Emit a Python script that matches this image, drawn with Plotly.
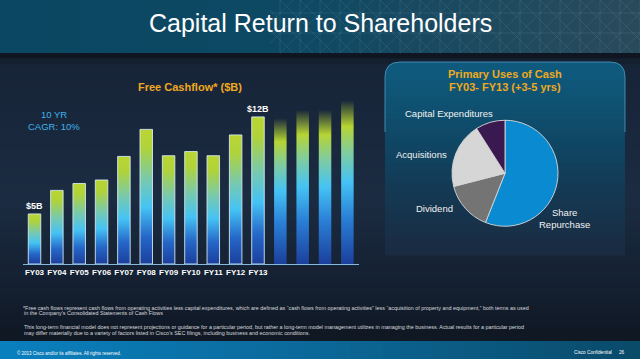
import plotly.graph_objects as go

# ---------------- data ----------------
years = ["FY03", "FY04", "FY05", "FY06", "FY07", "FY08", "FY09", "FY10", "FY11", "FY12", "FY13"]
fcf = [5.0, 6.7, 7.2, 7.45, 9.15, 11.1, 9.2, 9.5, 9.2, 10.7, 12.0]
future_fcf = [11.9, 12.5, 12.5, 13.2]          # unlabeled +3-5 yrs bars
bar_labels = {0: "$5B", 10: "$12B"}

uses = ["Share Repurchase", "Dividend", "Acquisitions", "Capital Expenditures"]
use_share = [56, 15, 20, 9]
use_colors = ["#0a8ad0", "#747474", "#d6d6d6", "#3a1850"]

W, H = 640, 359
Y_MIN, Y_MAX = 1.39, 13.22
HW = 0.28


def px(x):
    return x / W


def py(y):
    return 1 - y / H


def hex2rgb(h):
    h = h.lstrip("#")
    return tuple(int(h[i:i + 2], 16) for i in (0, 2, 4))


def interp(stops, t):
    for (t0, c0), (t1, c1) in zip(stops[:-1], stops[1:]):
        if t0 <= t <= t1:
            f = 0 if t1 == t0 else (t - t0) / (t1 - t0)
            a, b = hex2rgb(c0), hex2rgb(c1)
            return "rgb(%d,%d,%d)" % tuple(round(a[i] + (b[i] - a[i]) * f) for i in range(3))
    return "rgb(%d,%d,%d)" % hex2rgb(stops[-1][1])


shapes = []


def vstrips(x0, x1, y0, y1, stops, n=40):
    h = (y1 - y0) / n
    for i in range(n):
        t = (i + 0.5) / n
        shapes.append(dict(type="rect", xref="paper", yref="paper", layer="below",
                           x0=px(x0), x1=px(x1), y0=py(y0 + i * h - 0.4), y1=py(y0 + (i + 1) * h + 0.4),
                           fillcolor=interp(stops, t), line=dict(width=0)))


def hstrips(x0, x1, y0, y1, stops, n=40):
    w = (x1 - x0) / n
    for i in range(n):
        t = (i + 0.5) / n
        shapes.append(dict(type="rect", xref="paper", yref="paper", layer="below",
                           x0=px(x0 + i * w - 0.4), x1=px(x0 + (i + 1) * w + 0.4), y0=py(y0), y1=py(y1),
                           fillcolor=interp(stops, t), line=dict(width=0)))


# main content background
vstrips(0, W, 53, 341, [(0, "#0c1219"), (0.04, "#172438"), (0.5, "#1b2b41"), (0.82, "#142031"), (1, "#0f1722")], n=50)
# title band
hstrips(0, W, 0, 53, [(0, "#0b4662"), (0.45, "#0e4964"), (1, "#2a4a5b")], n=40)
# grid pattern on title band
gcol = "rgba(140,185,210,0.13)"
for k in range(19):
    x = 280 + 20 * k
    shapes.append(dict(type="line", xref="paper", yref="paper", layer="below",
                       x0=px(x), x1=px(x), y0=py(0), y1=py(53), line=dict(color=gcol, width=1)))
for yy in (13, 33):
    shapes.append(dict(type="line", xref="paper", yref="paper", layer="below",
                       x0=px(270), x1=px(W), y0=py(yy), y1=py(yy), line=dict(color=gcol, width=1)))
for k in range(-2, 19):
    x = 280 + 20 * k
    shapes.append(dict(type="line", xref="paper", yref="paper", layer="below",
                       x0=px(max(x, 270)), x1=px(x + 53), y0=py(max(0, 270 - x)), y1=py(53),
                       line=dict(color=gcol, width=1)))
    shapes.append(dict(type="line", xref="paper", yref="paper", layer="below",
                       x0=px(x + 53), x1=px(max(x, 270)), y0=py(0), y1=py(53 - max(0, 270 - x)),
                       line=dict(color=gcol, width=1)))
# footer band
hstrips(0, W, 341, H, [(0, "#0a80bf"), (0.5, "#0b6898"), (1, "#0a4a69")], n=40)

# right panel (rounded top)
PX0, PX1, PY0, R = 385, 625, 62, 15


def P(x, y):
    return "%.5f,%.5f" % (px(x), py(y))


top_path = ("M " + P(PX0, PY0 + 18) + " L " + P(PX0, PY0 + R) +
            " Q " + P(PX0, PY0) + " " + P(PX0 + R, PY0) +
            " L " + P(PX1 - R, PY0) + " Q " + P(PX1, PY0) + " " + P(PX1, PY0 + R) +
            " L " + P(PX1, PY0 + 18) + " Z")
shapes.append(dict(type="path", xref="paper", yref="paper", layer="below", path=top_path,
                   fillcolor="#0f5a7c", line=dict(width=0)))
vstrips(PX0, PX1, PY0 + 18, 255, [(0, "#0f587a"), (0.35, "#0f4765"), (0.7, "#153650"), (1, "#1a2b41")], n=40)
edge_path = ("M " + P(PX0, PY0 + 70) + " L " + P(PX0, PY0 + R) +
             " Q " + P(PX0, PY0) + " " + P(PX0 + R, PY0) +
             " L " + P(PX1 - R, PY0) + " Q " + P(PX1, PY0) + " " + P(PX1, PY0 + R) +
             " L " + P(PX1, PY0 + 70))
shapes.append(dict(type="path", xref="paper", yref="paper", layer="below", path=edge_path,
                   line=dict(color="rgba(80,165,205,0.75)", width=1)))

# ---------------- traces ----------------
fig = go.Figure()

bar_scale = [[0, "#1b3f9c"], [0.2, "#2566c8"], [0.42, "#45c3f5"], [0.62, "#76c9b2"],
             [0.86, "#b0d33a"], [1, "#bad532"]]
fut_scale = [[0, "#1b3f9c"], [0.28, "#2a7fd6"], [0.5, "#45c3f5"], [0.68, "#80cca0"],
             [0.84, "#b6d433"], [1, "rgba(182,212,51,0)"]]

for i, v in enumerate(fcf):
    fig.add_trace(go.Scatter(
        x=[i - HW, i - HW, i + HW, i + HW, i - HW], y=[Y_MIN, v, v, Y_MIN, Y_MIN],
        mode="lines", fill="toself",
        fillgradient=dict(type="vertical", colorscale=bar_scale),
        line=dict(color="rgba(215,238,248,0.85)", width=1),
        hoverinfo="skip", showlegend=False))

for j, v in enumerate(future_fcf):
    i = len(fcf) + j
    fig.add_trace(go.Scatter(
        x=[i - HW, i - HW, i + HW, i + HW, i - HW], y=[Y_MIN, v, v, Y_MIN, Y_MIN],
        mode="lines", fill="toself",
        fillgradient=dict(type="vertical", colorscale=fut_scale),
        line=dict(width=0), hoverinfo="skip", showlegend=False))

fig.add_trace(go.Pie(
    labels=uses, values=use_share, sort=False, direction="clockwise", rotation=0,
    textinfo="none", hoverinfo="label+percent",
    marker=dict(colors=use_colors, line=dict(color="rgba(215,215,215,0.9)", width=1)),
    domain=dict(x=[px(452), px(558)], y=[py(226.5), py(120)]),
    showlegend=False))

# ---------------- annotations ----------------
FONT = "Liberation Sans, Arial, sans-serif"
ann = []


def text(x, y, s, size, color="white", bold=False, anchor="center"):
    ann.append(dict(x=px(x), y=py(y), xref="paper", yref="paper", text=s, showarrow=False,
                    xanchor=anchor, yanchor="middle",
                    font=dict(family=FONT, size=size, color=color, weight="bold" if bold else "normal")))


text(320, 23, "Capital Return to Shareholders", 25)
text(189.5, 86.5, "Free Cashflow* ($B)", 11, "#f0a91e", True)
text(54, 114.5, "10 YR", 9.5, "#3fb2ea")
text(54, 126.7, "CAGR: 10%", 9.5, "#3fb2ea")
for i, s in bar_labels.items():
    ann.append(dict(x=i, y=fcf[i], xref="x", yref="y", text=s, showarrow=False,
                    xanchor="center", yanchor="bottom", yshift=1,
                    font=dict(family=FONT, size=9, color="white", weight="bold")))

text(505, 74.3, "Primary Uses of Cash", 11, "#f0a91e", True)
text(505, 86.5, "FY03- FY13 (+3-5 yrs)", 11, "#f0a91e", True)
text(448.5, 113.3, "Capital Expenditures", 9.5, "#f2f2f2")
text(421.7, 154, "Acquisitions", 9.5, "#f2f2f2")
text(434.3, 208.3, "Dividend", 9.5, "#f2f2f2")
text(564.5, 212.7, "Share", 9.5, "#f2f2f2")
text(564.5, 224.2, "Repurchase", 9.5, "#f2f2f2")

fn_col = "#d6d9de"
FN = 5.4
text(20.5, 307.6, "*Free cash flows represent cash flows from operating activities less capital expenditures, which are defined as \u201ccash flows from operating activities\u201d less \u201cacquisition of property and equipment,\u201d both terms as used", FN, fn_col, anchor="left")
text(22, 313.4, "in the Company\u2019s Consolidated Statements of Cash Flows", FN, fn_col, anchor="left")
text(21.5, 326.7, "This long-term financial model does not represent projections or guidance for a particular period, but rather a long-term model management utilizes in managing the business. Actual results for a particular period", FN, fn_col, anchor="left")
text(22, 333.3, "may differ materially due to a variety of factors listed in Cisco\u2019s SEC filings, including business and economic conditions.", FN, fn_col, anchor="left")

text(14.5, 352.5, "\u00a9 2013 Cisco and/or its affiliates. All rights reserved.", 4.5, "white", anchor="left")
text(572, 352.5, "Cisco Confidential", 4.7, "white", anchor="left")
text(616.5, 352.5, "26", 4.7, "white", anchor="left")

fig.update_layout(
    width=W, height=H, margin=dict(l=0, r=0, t=0, b=0),
    paper_bgcolor="#18253a", plot_bgcolor="rgba(0,0,0,0)",
    shapes=shapes, annotations=ann,
    xaxis=dict(domain=[px(23), px(359)], range=[-0.515, 14.52],
               tickvals=list(range(len(years))), ticktext=years, ticks="",
               showgrid=False, zeroline=False, showline=True, linecolor="#86b9dc", linewidth=1,
               tickfont=dict(family=FONT, size=8, color="white", weight="bold"), fixedrange=True),
    yaxis=dict(domain=[py(264), py(100)], range=[Y_MIN, Y_MAX], visible=False, fixedrange=True),
    font=dict(family=FONT),
)

fig.write_html("out.html", config={"displayModeBar": False},
               post_script="document.body.style.margin='0';document.body.style.overflow='hidden';")
